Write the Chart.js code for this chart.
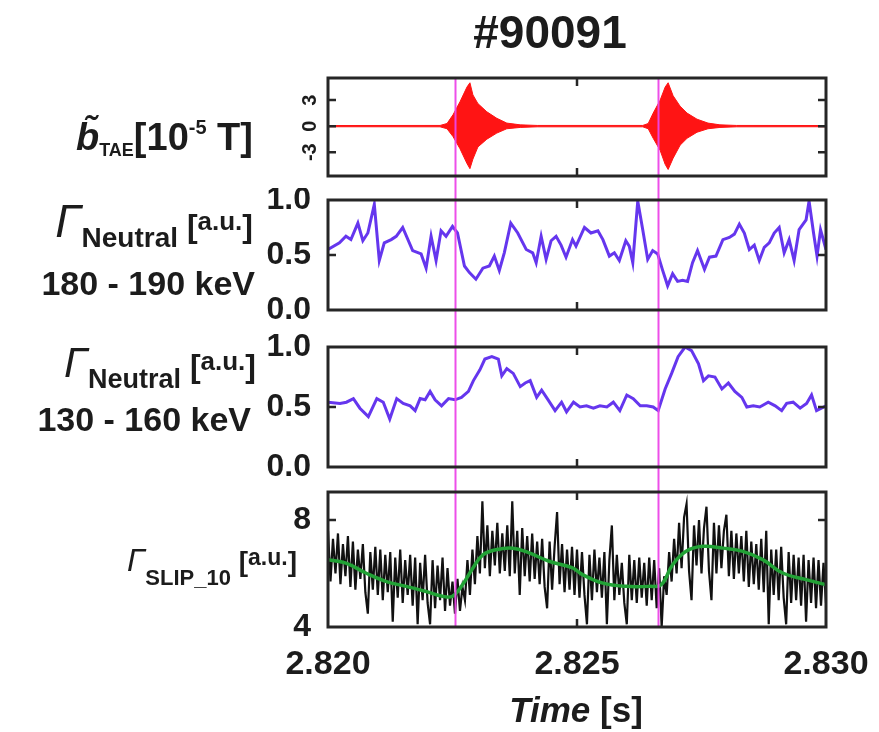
<!DOCTYPE html>
<html>
<head>
<meta charset="utf-8">
<script src="https://cdn.jsdelivr.net/npm/chart.js@4.4.0/dist/chart.umd.min.js"></script>
<style>
  body { margin: 0; background: #fff; }
  #wrap { position: relative; width: 879px; height: 732px; overflow: hidden; }
  canvas { position: absolute; left: 0; }
  svg { position: absolute; left: 0; top: 0; }
  svg text { font-family: 'Liberation Sans', Arial, sans-serif; font-weight: bold; fill: #1c1c1c; }
</style>
</head>
<body>
<div id="wrap">
  <canvas id="cTae" width="879" height="188" style="top:0px"></canvas>
  <canvas id="cN1" width="879" height="140" style="top:188px"></canvas>
  <canvas id="cN2" width="879" height="152" style="top:328px"></canvas>
  <canvas id="cSlip" width="879" height="252" style="top:480px"></canvas>
  <svg width="879" height="732">
    <text x="550" y="48" text-anchor="middle" font-size="46">#90091</text>

    <text x="253" y="150" text-anchor="end" font-size="38"><tspan font-style="italic">b&#771;</tspan><tspan font-size="18" dy="6">TAE</tspan><tspan dy="-6">[10</tspan><tspan font-size="20" dy="-16">-5</tspan><tspan dy="16">&#160;T]</tspan></text>

    <text x="253" y="237" text-anchor="end" font-size="32"><tspan font-style="italic" font-weight="normal" font-size="46">&#915;</tspan><tspan font-size="28" dy="10">Neutral</tspan><tspan dy="-10">&#160;[</tspan><tspan font-size="26" dy="-7">a.u.</tspan><tspan dy="7">]</tspan></text>
    <text x="255" y="295" text-anchor="end" font-size="34">180 - 190 keV</text>

    <text x="256" y="377" text-anchor="end" font-size="32"><tspan font-style="italic" font-weight="normal" font-size="42">&#915;</tspan><tspan font-size="27" dy="11">Neutral</tspan><tspan dy="-11">&#160;[</tspan><tspan font-size="26" dy="-7">a.u.</tspan><tspan dy="7">]</tspan></text>
    <text x="251" y="431" text-anchor="end" font-size="34">130 - 160 keV</text>

    <text x="297" y="571" text-anchor="end" font-size="28"><tspan font-style="italic" font-weight="normal" font-size="32">&#915;</tspan><tspan font-size="22" dy="14">SLIP_10</tspan><tspan dy="-14">&#160;[</tspan><tspan font-size="23" dy="-6">a.u.</tspan><tspan dy="6">]</tspan></text>

    <text x="576" y="722" text-anchor="middle" font-size="35"><tspan font-style="italic">Time</tspan>&#160;[s]</text>
  </svg>
</div>
<script>
// time axis (s)
const timeTicks = [2.820, 2.825, 2.830];
const timeTickLabels = ['2.820', '2.825', '2.830'];
// times of the two TAE bursts (magenta markers)
const burstTimes = [2.82255, 2.82663];

// TAE magnetic fluctuation envelope [10^-5 T]
const taeTime = [2.82000, 2.82225, 2.82239, 2.82251, 2.82265, 2.82279, 2.82285, 2.82291, 2.82301, 2.82319,
                 2.82339, 2.82359, 2.82386, 2.82420, 2.82632, 2.82643, 2.82653, 2.82667, 2.82677, 2.82683,
                 2.82693, 2.82707, 2.82721, 2.82741, 2.82763, 2.82787, 2.82820, 2.83000];
const taeUpper = [0.07, 0.08, 0.3, 1.3, 2.8, 4.5, 5.0, 3.6, 2.6, 1.65,
                  0.9, 0.35, 0.15, 0.08, 0.08, 0.3, 1.5, 3.0, 4.5, 5.0,
                  3.5, 2.3, 1.5, 0.8, 0.35, 0.15, 0.08, 0.07];
const taeLower = [-0.07, -0.08, -0.3, -1.2, -2.6, -4.3, -4.9, -3.8, -2.4, -1.5,
                  -0.8, -0.3, -0.15, -0.08, -0.08, -0.3, -1.4, -2.8, -4.4, -5.0,
                  -3.7, -2.2, -1.4, -0.7, -0.3, -0.15, -0.08, -0.07];
const taeTicks = [-3, 0, 3];
const taeTickLabels = ['-3', '0', '3'];

// neutral flux 180 - 190 keV [a.u.]
const n1Time = [2.82000, 2.82023, 2.82036, 2.82046, 2.82060, 2.82070, 2.82080, 2.82093, 2.82103, 2.82113,
                2.82127, 2.82137, 2.82150, 2.82170, 2.82187, 2.82197, 2.82207, 2.82217, 2.82227, 2.82237,
                2.82250, 2.82260, 2.82274, 2.82284, 2.82297, 2.82311, 2.82324, 2.82334, 2.82344, 2.82354,
                2.82367, 2.82381, 2.82398, 2.82411, 2.82418, 2.82428, 2.82438, 2.82448, 2.82458, 2.82468,
                2.82478, 2.82491, 2.82498, 2.82515, 2.82528, 2.82542, 2.82552, 2.82565, 2.82575, 2.82585,
                2.82598, 2.82605, 2.82612, 2.82622, 2.82632, 2.82642, 2.82652, 2.82662, 2.82672, 2.82682,
                2.82692, 2.82702, 2.82712, 2.82722, 2.82732, 2.82742, 2.82756, 2.82766, 2.82779, 2.82793,
                2.82806, 2.82816, 2.82826, 2.82836, 2.82846, 2.82856, 2.82866, 2.82876, 2.82886, 2.82896,
                2.82906, 2.82916, 2.82926, 2.82936, 2.82946, 2.82960, 2.82966, 2.82975, 2.82982, 2.82989,
                2.83000];
const n1Flux = [0.55, 0.61, 0.67, 0.64, 0.79, 0.63, 0.70, 0.96, 0.45, 0.61,
                0.64, 0.67, 0.75, 0.54, 0.51, 0.38, 0.67, 0.45, 0.72, 0.67,
                0.76, 0.70, 0.40, 0.34, 0.28, 0.38, 0.40, 0.49, 0.36, 0.52,
                0.79, 0.70, 0.55, 0.52, 0.43, 0.67, 0.46, 0.63, 0.67, 0.59,
                0.48, 0.64, 0.58, 0.75, 0.70, 0.72, 0.64, 0.49, 0.52, 0.45,
                0.63, 0.58, 0.43, 0.99, 0.73, 0.46, 0.54, 0.51, 0.36, 0.22,
                0.33, 0.26, 0.27, 0.26, 0.43, 0.54, 0.37, 0.48, 0.49, 0.64,
                0.66, 0.69, 0.78, 0.70, 0.55, 0.59, 0.45, 0.57, 0.61, 0.70,
                0.75, 0.52, 0.64, 0.45, 0.73, 0.82, 0.99, 0.70, 0.49, 0.73,
                0.55];

// neutral flux 130 - 160 keV [a.u.]
const n2Time = [2.82000, 2.82024, 2.82037, 2.82051, 2.82064, 2.82081, 2.82098, 2.82111, 2.82124, 2.82138,
                2.82151, 2.82165, 2.82175, 2.82185, 2.82195, 2.82205, 2.82215, 2.82228, 2.82242, 2.82255,
                2.82268, 2.82282, 2.82292, 2.82305, 2.82315, 2.82329, 2.82342, 2.82349, 2.82359, 2.82372,
                2.82386, 2.82396, 2.82406, 2.82419, 2.82429, 2.82442, 2.82456, 2.82469, 2.82479, 2.82493,
                2.82506, 2.82519, 2.82533, 2.82546, 2.82560, 2.82573, 2.82586, 2.82600, 2.82613, 2.82627,
                2.82640, 2.82653, 2.82663, 2.82677, 2.82690, 2.82703, 2.82717, 2.82730, 2.82744, 2.82754,
                2.82764, 2.82777, 2.82791, 2.82804, 2.82817, 2.82831, 2.82841, 2.82854, 2.82867, 2.82884,
                2.82898, 2.82911, 2.82921, 2.82934, 2.82948, 2.82961, 2.82971, 2.82981, 2.83000];
const n2Flux = [0.54, 0.53, 0.54, 0.57, 0.49, 0.42, 0.57, 0.54, 0.40, 0.57,
                0.53, 0.51, 0.47, 0.57, 0.56, 0.63, 0.56, 0.51, 0.57, 0.56,
                0.58, 0.63, 0.72, 0.81, 0.90, 0.92, 0.90, 0.76, 0.82, 0.78,
                0.67, 0.70, 0.72, 0.58, 0.64, 0.56, 0.47, 0.54, 0.46, 0.54,
                0.50, 0.51, 0.49, 0.51, 0.50, 0.54, 0.47, 0.60, 0.57, 0.51,
                0.51, 0.50, 0.47, 0.65, 0.78, 0.92, 1.00, 0.97, 0.86, 0.72,
                0.76, 0.75, 0.65, 0.70, 0.63, 0.58, 0.50, 0.51, 0.50, 0.54,
                0.51, 0.47, 0.53, 0.54, 0.49, 0.53, 0.60, 0.47, 0.51];
const fluxTicks = [0, 0.5, 1.0];
const fluxTickLabels = ['0.0', '0.5', '1.0'];

// SLIP detector flux [a.u.]: raw signal sampled every 0.05 ms from 2.820 s
const slipStart = 2.820;
const slipStep = 0.00005;
const slipRaw = [7.6, 5.7, 7.3, 6.0, 7.5, 5.6, 7.1, 5.9, 7.4, 5.5, 7.2, 5.4, 6.9, 5.8, 7.1, 5.3, 4.5, 6.8, 5.4, 7.0,
                 5.2, 6.9, 5.0, 6.7, 5.3, 6.8, 4.2, 6.6, 5.1, 6.9, 4.9, 6.5, 5.2, 6.7, 4.8, 6.6, 4.1, 6.4, 5.0, 6.7,
                 4.9, 4.1, 6.5, 4.7, 6.3, 5.0, 6.6, 4.6, 6.2, 4.8, 5.7, 4.5, 5.8, 4.6, 5.5, 5.0, 6.5, 5.2, 6.9, 5.6,
                 7.4, 6.0, 8.7, 6.2, 7.8, 5.9, 7.6, 6.3, 7.9, 6.0, 7.5, 6.1, 7.8, 5.9, 8.7, 6.0, 7.6, 5.2, 7.7, 5.9,
                 7.4, 5.7, 7.5, 5.8, 7.2, 5.6, 7.3, 5.5, 4.7, 7.2, 5.4, 7.0, 8.3, 5.6, 7.1, 5.3, 6.9, 5.4, 7.0, 5.2,
                 6.9, 5.1, 6.8, 5.2, 4.1, 6.7, 5.0, 6.9, 5.3, 6.6, 5.1, 6.8, 4.1, 6.5, 7.8, 5.0, 6.7, 5.2, 6.4, 4.9,
                 4.1, 6.7, 5.0, 6.5, 4.9, 6.6, 5.1, 6.4, 4.8, 6.6, 5.0, 6.5, 4.7, 6.2, 4.0, 5.9, 5.2, 6.8, 5.7, 7.3,
                 6.0, 7.9, 6.2, 8.1, 8.6, 6.1, 5.0, 7.8, 6.3, 8.0, 6.0, 7.7, 8.5, 6.1, 5.0, 7.9, 6.0, 7.8, 6.2, 7.6,
                 8.2, 5.9, 7.6, 5.8, 7.5, 6.0, 7.4, 5.7, 7.6, 5.5, 7.2, 5.6, 7.1, 5.4, 7.3, 5.3, 7.6, 4.1, 6.9, 5.2,
                 6.9, 5.0, 7.0, 5.1, 4.1, 6.8, 4.9, 6.7, 5.0, 6.6, 4.8, 6.7, 4.2, 6.5, 4.9, 6.6, 4.7, 6.5, 4.8, 6.4,
                 4.9];
// smoothed SLIP flux
const slipSmoothTime = [2.82000, 2.82036, 2.82076, 2.82116, 2.82157, 2.82197, 2.82230, 2.82250, 2.82270, 2.82291,
                        2.82311, 2.82337, 2.82371, 2.82404, 2.82444, 2.82491, 2.82511, 2.82552, 2.82598, 2.82645,
                        2.82669, 2.82692, 2.82719, 2.82752, 2.82793, 2.82833, 2.82873, 2.82913, 2.82960, 2.83000];
const slipSmooth = [6.52, 6.39, 6.02, 5.71, 5.52, 5.33, 5.15, 5.15, 5.58, 6.21,
                    6.70, 6.89, 6.95, 6.77, 6.46, 6.21, 5.96, 5.64, 5.52, 5.52,
                    5.58, 6.33, 6.83, 7.02, 6.95, 6.83, 6.52, 6.02, 5.77, 5.58];
const slipTicks = [4, 8];
const slipTickLabels = ['4', '8'];

function pts(xs, ys) {
    return ys.map((y, i) => ({ x: xs[i], y: y }));
}

const fontFamily = "'Liberation Sans', Arial, sans-serif";
const inkColor = '#1c1c1c';

// box, inward ticks and the magenta burst markers
const framePlugin = {
    id: 'frame',
    afterDatasetsDraw(chart, args, opts) {
        const ctx = chart.ctx;
        const area = chart.chartArea;
        const xs = chart.scales.x, ys = chart.scales.y;

        ctx.save();
        ctx.strokeStyle = 'rgba(236, 70, 232, 0.95)';
        ctx.lineWidth = 2;
        const top = opts.lineFromTop ? 0 : area.top;
        const bottom = opts.lineToBottom ? chart.height : area.bottom;
        burstTimes.forEach(t => {
            const px = Math.round(xs.getPixelForValue(t)) + 0.5;
            ctx.beginPath();
            ctx.moveTo(px, top);
            ctx.lineTo(px, bottom);
            ctx.stroke();
        });

        ctx.strokeStyle = '#262626';
        ctx.lineWidth = 2.5;
        ctx.beginPath();
        opts.yTicks.forEach(v => {
            if (v <= ys.min || v >= ys.max) return;
            const py = ys.getPixelForValue(v);
            ctx.moveTo(area.left, py); ctx.lineTo(area.left + 8, py);
            ctx.moveTo(area.right, py); ctx.lineTo(area.right - 8, py);
        });
        timeTicks.forEach(v => {
            if (v <= xs.min || v >= xs.max) return;
            const px = xs.getPixelForValue(v);
            ctx.moveTo(px, area.top); ctx.lineTo(px, area.top + 8);
            ctx.moveTo(px, area.bottom); ctx.lineTo(px, area.bottom - 8);
        });
        ctx.stroke();

        ctx.lineWidth = 3;
        ctx.strokeRect(area.left, area.top, area.right - area.left, area.bottom - area.top);

        // rotated tick labels (first panel only)
        if (opts.rotatedLabels) {
            ctx.fillStyle = inkColor;
            ctx.font = 'bold 20px ' + fontFamily;
            ctx.textAlign = 'center';
            ctx.textBaseline = 'bottom';
            opts.yTicks.forEach((v, i) => {
                ctx.save();
                ctx.translate(area.left - 8, ys.getPixelForValue(v));
                ctx.rotate(-Math.PI / 2);
                ctx.fillText(opts.rotatedLabels[i], 0, 0);
                ctx.restore();
            });
        }
        ctx.restore();
    }
};

function panelOptions(cfg) {
    return {
        responsive: false,
        animation: false,
        events: [],
        layout: { autoPadding: false, padding: { top: cfg.padTop, right: 53, bottom: 0, left: 0 } },
        plugins: {
            legend: { display: false },
            tooltip: { enabled: false },
            frame: cfg.frame
        },
        elements: { point: { radius: 0 } },
        scales: {
            x: {
                type: 'linear',
                min: 2.820,
                max: 2.830,
                grid: { display: false },
                border: { display: false },
                ticks: {
                    display: !!cfg.showTime,
                    padding: 9,
                    color: inkColor,
                    font: { family: fontFamily, weight: 'bold', size: 34 },
                    maxRotation: 0,
                    callback: (v, i) => timeTickLabels[i]
                },
                afterBuildTicks: s => { s.ticks = timeTicks.map(v => ({ value: v })); },
                afterFit: s => { s.height = cfg.xHeight; }
            },
            y: {
                type: 'linear',
                min: cfg.yMin,
                max: cfg.yMax,
                grid: { display: false },
                border: { display: false },
                ticks: {
                    display: !!cfg.yLabels,
                    padding: 9,
                    color: inkColor,
                    // tiny line height: keeps the edge labels from shrinking the plot area
                    font: { family: fontFamily, weight: 'bold', size: 32, lineHeight: 0.01 },
                    callback: (v, i) => cfg.yLabels ? cfg.yLabels[i] : ''
                },
                afterBuildTicks: s => { s.ticks = cfg.yTicks.map(v => ({ value: v })); },
                afterFit: s => { s.width = 328; }
            }
        }
    };
}

new Chart(document.getElementById('cTae'), {
    type: 'line',
    data: {
        datasets: [{
            data: pts(taeTime, taeUpper),
            borderColor: '#ff1414',
            backgroundColor: '#ff1414',
            borderWidth: 1,
            fill: '+1'
        }, {
            data: pts(taeTime, taeLower),
            borderColor: '#ff1414',
            borderWidth: 1,
            fill: false
        }]
    },
    options: panelOptions({
        padTop: 78, xHeight: 12, yMin: -5.75, yMax: 5.55, yTicks: taeTicks,
        frame: { yTicks: taeTicks, rotatedLabels: taeTickLabels, lineFromTop: false, lineToBottom: true }
    }),
    plugins: [framePlugin]
});

new Chart(document.getElementById('cN1'), {
    type: 'line',
    data: {
        datasets: [{
            data: pts(n1Time, n1Flux),
            borderColor: '#6536ee',
            borderWidth: 3,
            fill: false
        }]
    },
    options: panelOptions({
        padTop: 12, xHeight: 18, yMin: 0, yMax: 1, yTicks: fluxTicks, yLabels: fluxTickLabels,
        frame: { yTicks: fluxTicks, lineFromTop: true, lineToBottom: true }
    }),
    plugins: [framePlugin]
});

new Chart(document.getElementById('cN2'), {
    type: 'line',
    data: {
        datasets: [{
            data: pts(n2Time, n2Flux),
            borderColor: '#6536ee',
            borderWidth: 3,
            fill: false
        }]
    },
    options: panelOptions({
        padTop: 19, xHeight: 13, yMin: 0, yMax: 1, yTicks: fluxTicks, yLabels: fluxTickLabels,
        frame: { yTicks: fluxTicks, lineFromTop: true, lineToBottom: true }
    }),
    plugins: [framePlugin]
});

new Chart(document.getElementById('cSlip'), {
    type: 'line',
    data: {
        datasets: [{
            data: pts(slipSmoothTime, slipSmooth),
            borderColor: '#22a236',
            borderWidth: 3.5,
            tension: 0.4,
            fill: false
        }, {
            data: slipRaw.map((y, i) => ({ x: slipStart + i * slipStep, y: y })),
            borderColor: '#111111',
            borderWidth: 2.2,
            fill: false
        }]
    },
    options: panelOptions({
        padTop: 12, xHeight: 105, yMin: 4, yMax: 9.05, yTicks: slipTicks, yLabels: slipTickLabels,
        showTime: true,
        frame: { yTicks: slipTicks, lineFromTop: true, lineToBottom: false }
    }),
    plugins: [framePlugin]
});
</script>
</body>
</html>
